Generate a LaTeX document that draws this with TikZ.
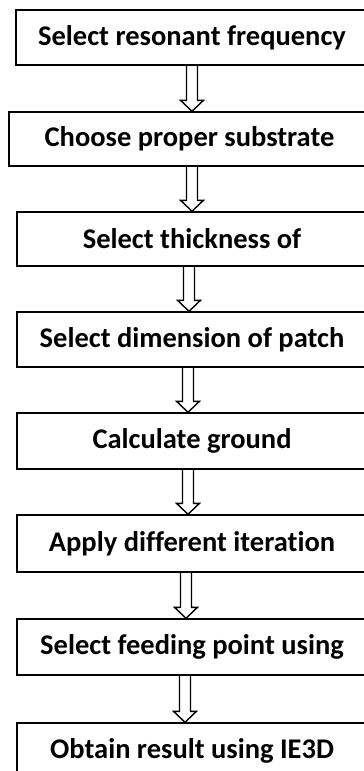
\documentclass[tikz,border=0pt]{standalone}
\usepackage{fontspec}
\setmainfont[Ligatures={NoCommon}]{Carlito}
\usetikzlibrary{calc}

\tikzset{
  stepbox/.style={draw=black, line width=1.4pt, rectangle, inner sep=0pt,
    font=\fontsize{28.5}{31}\selectfont\bfseries, text=black},
  hollow/.style={draw=black, line width=1.4pt, line join=miter}
}

% hollow block arrow from the bottom of #1 to the top of #2, centred at x = #3
\newcommand\flowarrow[3]{%
  \draw[hollow] let \p1=(#1.south), \p2=(#2.north) in
    ({#3pt-5.5pt},\y1) -- ({#3pt-5.5pt},\y2+11pt) -- ({#3pt-11.5pt},\y2+11pt)
    -- ({#3pt},\y2) -- ({#3pt+11.5pt},\y2+11pt) -- ({#3pt+5.5pt},\y2+11pt)
    -- ({#3pt+5.5pt},\y1);
}

\begin{document}
\begin{tikzpicture}[x=1pt,y=-1pt]
  \useasboundingbox (0,0) rectangle (364,771);

  \node[stepbox, minimum width=352pt, minimum height=55pt] (s1) at (192,37.5)
    {Select resonant frequency};
  \node[stepbox, minimum width=361pt, minimum height=54pt] (s2) at (189.5,139)
    {Choose proper substrate};
  \node[stepbox, minimum width=350pt, minimum height=54pt] (s3) at (192,239)
    {Select thickness of};
  \node[stepbox, minimum width=350pt, minimum height=55pt] (s4) at (192,339.5)
    {Select dimension of patch};
  \node[stepbox, minimum width=350pt, minimum height=56pt] (s5) at (192,441)
    {Calculate ground};
  \node[stepbox, minimum width=350pt, minimum height=57pt] (s6) at (192,543.5)
    {Apply different iteration};
  \node[stepbox, minimum width=350pt, minimum height=56pt] (s7) at (192,647)
    {Select feeding point using};
  \node[stepbox, minimum width=350pt, minimum height=56pt] (s8) at (192,751)
    {Obtain result using IE3D};

  \flowarrow{s1}{s2}{192}
  \flowarrow{s2}{s3}{192}
  \flowarrow{s3}{s4}{189}
  \flowarrow{s4}{s5}{188}
  \flowarrow{s5}{s6}{188}
  \flowarrow{s6}{s7}{186}
  \flowarrow{s7}{s8}{185}
\end{tikzpicture}
\end{document}
